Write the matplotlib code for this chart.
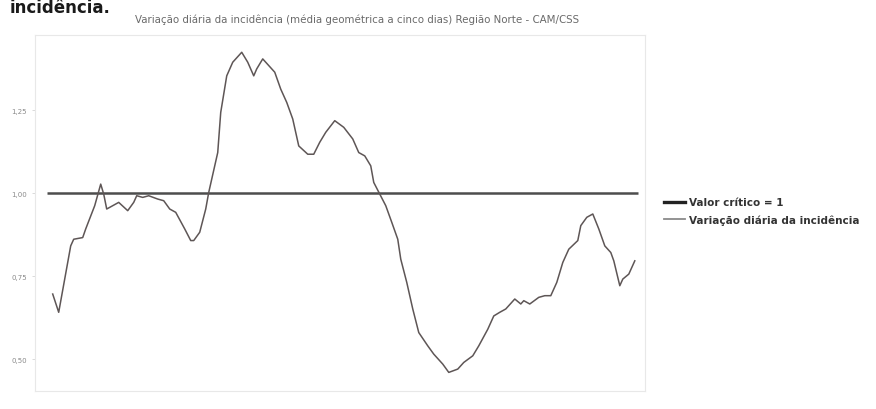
import matplotlib
matplotlib.use("Agg")
import matplotlib.pyplot as plt
from matplotlib.lines import Line2D

# Daily incidence variation (5-day geometric mean), one value per sampled day
days = [0, 2, 4, 6, 7, 10, 11, 14, 16, 17,
        18, 20, 22, 25, 27, 28, 30, 32, 35, 37,
        39, 41, 44, 46, 47, 49, 51, 52, 55, 56,
        58, 60, 61, 63, 65, 67, 68, 70, 72, 74,
        76, 78, 80, 82, 85, 87, 89, 91, 94, 97,
        100, 102, 104, 106, 107, 109, 111, 113, 115, 116,
        118, 120, 122, 125, 127, 130, 132, 135, 137, 140,
        142, 145, 147, 149, 151, 154, 156, 157, 159, 162,
        164, 166, 168, 170, 172, 175, 176, 178, 180, 182,
        184, 186, 187, 189, 190, 192, 194]
variation = [0.696, 0.641, 0.741, 0.841, 0.861, 0.866, 0.892, 0.962, 1.027, 0.997,
             0.952, 0.962, 0.972, 0.947, 0.972, 0.992, 0.987, 0.992, 0.982, 0.977,
             0.952, 0.942, 0.892, 0.857, 0.857, 0.882, 0.952, 1.002, 1.122, 1.243,
             1.353, 1.394, 1.404, 1.424, 1.394, 1.353, 1.374, 1.404, 1.384, 1.364,
             1.313, 1.273, 1.223, 1.142, 1.117, 1.117, 1.153, 1.183, 1.218, 1.198,
             1.163, 1.122, 1.112, 1.082, 1.032, 0.997, 0.962, 0.912, 0.861, 0.801,
             0.731, 0.651, 0.580, 0.540, 0.515, 0.485, 0.460, 0.470, 0.490, 0.510,
             0.540, 0.590, 0.630, 0.641, 0.651, 0.681, 0.666, 0.676, 0.666, 0.686,
             0.691, 0.691, 0.731, 0.791, 0.831, 0.857, 0.902, 0.927, 0.937, 0.892,
             0.841, 0.821, 0.796, 0.721, 0.741, 0.756, 0.796]

# Critical value line (R = 1)
critical_x = [-2, 195]
critical_y = [1.0, 1.0]

y_ticks = [0.50, 0.75, 1.00, 1.25]
y_labels = ["0,50", "0,75", "1,00", "1,25"]

W, H = 876, 410
fig = plt.figure(figsize=(W / 100, H / 100), dpi=100)

# axes box in pixel coordinates
left, right, top, bottom = 35, 645, 36, 392
ax = fig.add_axes([left / W, (H - bottom) / H, (right - left) / W, (bottom - top) / H])

ax.plot(critical_x, critical_y, color="#4d4d4d", lw=1.8, solid_capstyle="butt", zorder=2)
ax.plot(days, variation, color="#5e5656", lw=1.1, zorder=3)

ax.set_xlim(-5.9, 197.4)
ax.set_ylim(0.404, 1.476)
ax.set_yticks(y_ticks)
ax.set_yticklabels(y_labels, fontsize=5, color="#8a8a8a")
ax.set_xticks([])
ax.tick_params(axis="y", length=2, width=0.5, color="#cccccc", pad=4)
for s in ax.spines.values():
    s.set_color("#e8e8e8")
    s.set_linewidth(0.8)

# heading carried over from the surrounding text
fig.text(10 / W, 1 - 13 / H, "incidência.", fontsize=12, fontweight="bold",
         color="#1a1a1a", ha="left", va="baseline")

fig.text(357 / W, 1 - 23 / H,
         "Variação diária da incidência (média geométrica a cinco dias) Região Norte - CAM/CSS",
         fontsize=7.4, color="#6a6a6a", ha="center", va="baseline")

handles = [Line2D([], [], color="#222222", lw=2.4),
           Line2D([], [], color="#8a8a8a", lw=1.3)]
fig.legend(handles, ["Valor crítico = 1", "Variação diária da incidência"],
           loc="upper left", bbox_to_anchor=(660 / W, 1 - 194 / H),
           frameon=False, handlelength=2.0, handletextpad=0.4,
           labelspacing=0.7, borderaxespad=0, labelcolor="#333333",
           prop={"weight": "bold", "size": 7.5})

fig.savefig("out.png", dpi=100)
